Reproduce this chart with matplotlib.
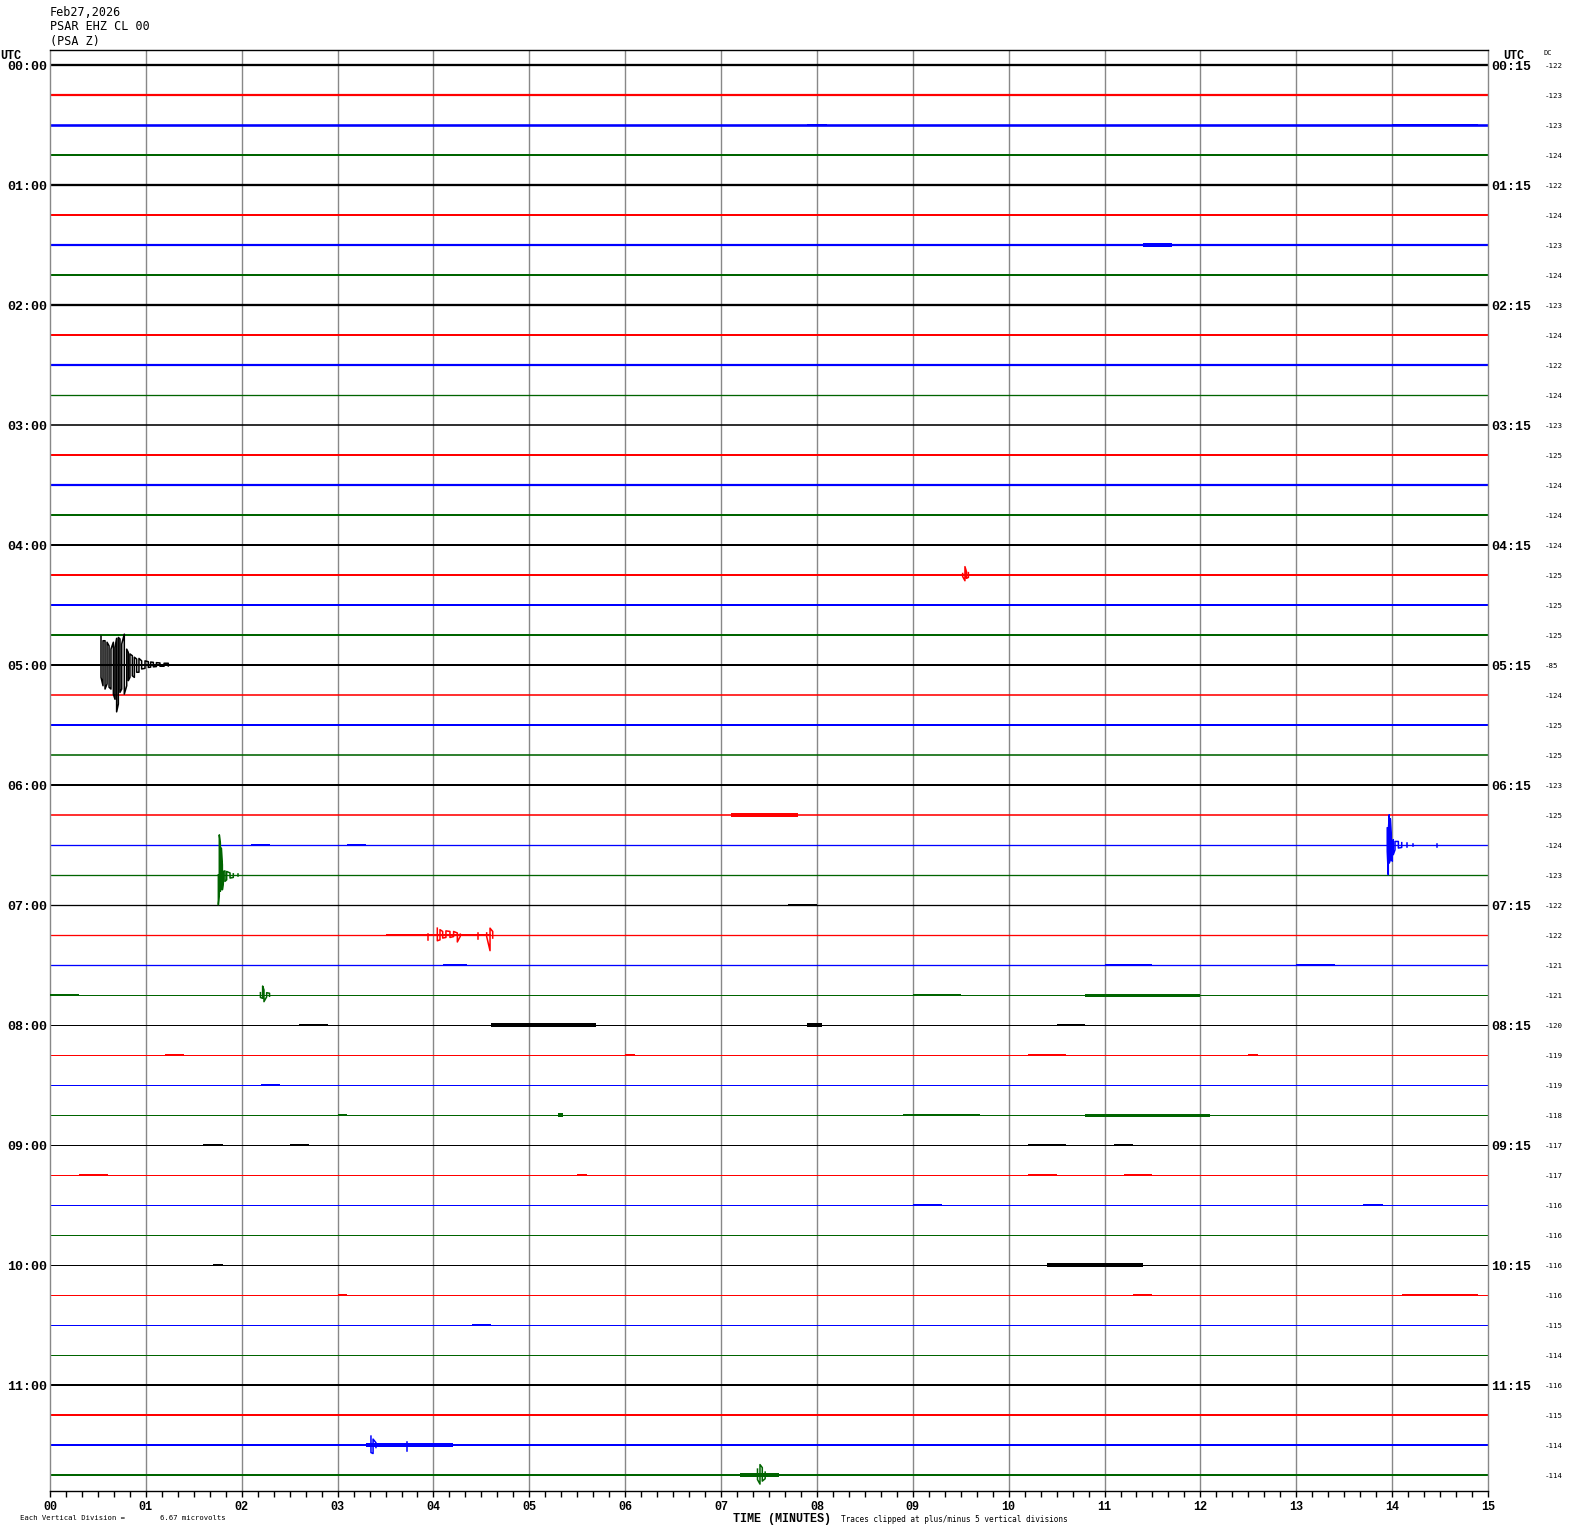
import matplotlib
matplotlib.use("Agg")
import matplotlib.pyplot as plt
from matplotlib.ticker import MultipleLocator

# --- 데이터 ---
trace_colors = ['black', 'red', 'blue', '#006400']
n_traces = 48

# 오른쪽 DC 값
dc_values = [-122, -123, -123, -124, -122, -124, -123, -124,
             -123, -124, -122, -124, -123, -125, -124, -124,
             -124, -125, -125, -125, -85, -124, -125, -125,
             -123, -125, -124, -123, -122, -122, -121, -121,
             -120, -119, -119, -118, -117, -117, -116, -116,
             -116, -116, -115, -114, -116, -115, -114, -114]

# 트레이스별 잡음 두께 (px)
noise_px = [2.3, 2.2, 2.6, 2.0, 2.3, 2.0, 2.2, 2.0,
            2.3, 2.0, 2.2, 1.3, 1.6, 2.0, 2.2, 2.0,
            2.0, 2.0, 2.0, 2.0, 2.0, 1.6, 2.0, 1.6,
            2.0, 1.6, 1.3, 1.3, 1.3, 1.3, 1.3, 1.0,
            1.0, 1.0, 1.0, 1.0, 1.0, 1.0, 1.0, 1.0,
            1.0, 1.0, 1.0, 1.0, 2.0, 2.0, 2.0, 2.0]

# 작은 잡음 구간: (트레이스, 시작분, 끝분, 반폭 px)
bursts = [(2, 7.9, 8.1, 1.3), (2, 14.0, 14.9, 1.3), (3, 9.0, 9.3, 1.3), (3, 13.2, 13.5, 1.3),
          (6, 11.4, 11.7, 1.8), (20, 1.0, 1.6, 1.2), (25, 7.1, 7.8, 1.6),
          (26, 2.1, 2.3, 1.2), (26, 3.1, 3.3, 1.2), (28, 7.7, 8.0, 1.2),
          (29, 3.5, 4.6, 1.2), (30, 4.1, 4.35, 1.2), (30, 13.0, 13.4, 1.2), (30, 11.0, 11.5, 1.0),
          (31, 0.0, 0.3, 1.2), (31, 9.0, 9.5, 1.2), (31, 10.8, 12.0, 1.5),
          (32, 4.6, 5.7, 1.6), (32, 7.9, 8.05, 1.8), (32, 10.5, 10.8, 1.2), (32, 2.6, 2.9, 1.0),
          (33, 1.2, 1.4, 1.0), (33, 6.0, 6.1, 1.0), (33, 10.2, 10.6, 1.2), (33, 12.5, 12.6, 1.2),
          (34, 2.2, 2.4, 1.2),
          (35, 3.0, 3.1, 1.0), (35, 8.9, 9.7, 1.0), (35, 10.8, 12.1, 1.5), (35, 5.3, 5.35, 1.8),
          (36, 1.6, 1.8, 1.2), (36, 2.5, 2.7, 1.0), (36, 11.1, 11.3, 1.2), (36, 10.2, 10.6, 1.0),
          (37, 0.3, 0.6, 1.0), (37, 10.2, 10.5, 1.2), (37, 11.2, 11.5, 1.2), (37, 5.5, 5.6, 1.0),
          (38, 9.0, 9.3, 1.0), (38, 13.7, 13.9, 1.0),
          (40, 10.4, 11.4, 1.6), (40, 1.7, 1.8, 1.0),
          (41, 3.0, 3.1, 1.0), (41, 11.3, 11.5, 1.0), (41, 14.1, 14.9, 1.0),
          (42, 4.4, 4.6, 1.0),
          (46, 3.3, 4.2, 1.6), (46, 4.2, 5.0, 1.2), (47, 1.3, 1.7, 1.2), (47, 7.2, 7.6, 1.6)]

# 지진 이벤트: (분, 위 진폭, 아래 진폭) 단위 = 트레이스 간격
ev_0415 = [(9.52, 0.05, 0.05), (9.544, 0.28, 0.19), (9.56, 0.11, 0.11), (9.58, 0.08, 0.08)]
ev_0500 = [(0.532, 0.96, 0.41), (0.553, 0.81, 0.69), (0.574, 0.81, 0.80), (0.595, 0.76, 0.63),
           (0.616, 0.64, 0.74), (0.636, 0.53, 0.80), (0.661, 0.76, 0.97), (0.678, 0.59, 1.14),
           (0.695, 0.89, 1.56), (0.713, 0.92, 1.30), (0.730, 0.87, 0.91), (0.748, 0.70, 0.80),
           (0.775, 1.03, 0.97), (0.800, 0.53, 0.69), (0.817, 0.42, 0.52), (0.834, 0.37, 0.41),
           (0.859, 0.31, 0.36), (0.880, 0.26, 0.41), (0.904, 0.20, 0.24), (0.928, 0.22, 0.24),
           (0.956, 0.14, 0.13), (0.991, 0.14, 0.11), (1.026, 0.11, 0.08), (1.050, 0.10, 0.07),
           (1.078, 0.09, 0.06), (1.110, 0.08, 0.05), (1.147, 0.07, 0.04), (1.190, 0.06, 0.04),
           (1.234, 0.06, 0.03)]
ev_0630 = [(13.949, 0.57, 0.21), (13.960, 0.46, 0.99), (13.970, 1.01, 0.60), (13.981, 0.88, 0.50),
           (13.991, 0.34, 0.43), (14.002, 0.12, 0.54), (14.012, 0.18, 0.32), (14.030, 0.12, 0.16),
           (14.065, 0.12, 0.10), (14.100, 0.08, 0.08), (14.152, 0.06, 0.06), (14.221, 0.03, 0.03),
           (14.465, 0.02, 0.08)]
ev_0645 = [(1.756, 0.01, 0.99), (1.766, 1.34, 0.66), (1.777, 1.07, 0.54), (1.787, 0.90, 0.32),
           (1.798, 0.34, 0.49), (1.808, 0.12, 0.27), (1.825, 0.14, 0.21), (1.843, 0.12, 0.16),
           (1.878, 0.07, 0.10), (1.912, 0.04, 0.08), (1.964, 0.03, 0.04)]
ev_0715 = [(3.947, 0.02, 0.16), (4.040, 0.23, 0.19), (4.068, 0.18, 0.16), (4.096, 0.12, 0.10),
           (4.130, 0.14, 0.08), (4.172, 0.12, 0.08), (4.210, 0.12, 0.05), (4.249, 0.07, 0.23),
           (4.280, 0.03, 0.04), (4.468, 0.07, 0.12), (4.555, 0.07, 0.05), (4.590, 0.23, 0.52),
           (4.618, 0.12, 0.10)]
ev_0745 = [(2.195, 0.08, 0.08), (2.218, 0.30, 0.11), (2.232, 0.17, 0.22), (2.26, 0.08, 0.06),
           (2.29, 0.06, 0.04)]
ev_1130 = [(3.348, 0.30, 0.25), (3.37, 0.20, 0.28), (3.40, 0.08, 0.08), (3.72, 0.10, 0.20)]
ev_1145 = [(7.38, 0.20, 0.15), (7.406, 0.35, 0.30), (7.43, 0.25, 0.20), (7.46, 0.10, 0.12)]
events = [(17, ev_0415), (20, ev_0500), (26, ev_0630), (27, ev_0645),
          (29, ev_0715), (31, ev_0745), (46, ev_1130), (47, ev_1145)]

px = 1 / 30.0  # 트레이스 간격 30px

fig = plt.figure(figsize=(15.7, 15.34), dpi=100)
ax = fig.add_axes([50 / 1570, 43 / 1534, 1438 / 1570, 1441 / 1534])
ax.set_xlim(0, 15)
ax.set_ylim(47.53, -0.5)

# 분 격자
for m in range(1, 15):
    ax.axvline(m, color='#888888', lw=1.0, zorder=1)

for i in range(n_traces):
    c = trace_colors[i % 4]
    ax.plot([0, 15], [i, i], color=c, lw=noise_px[i] * 0.72, solid_capstyle='butt', zorder=2)

for tr, t0, t1, hw in bursts:
    c = trace_colors[tr % 4]
    ax.fill_between([t0, t1], tr - hw * px, tr + hw * px, color=c, lw=0, zorder=3)


def draw_event(tr, ev):
    c = trace_colors[tr % 4]
    # 간격이 큰 곳은 끊어서 그림
    groups, cur = [], [ev[0]]
    for p in ev[1:]:
        if p[0] - cur[-1][0] > 0.05:
            groups.append(cur)
            cur = [p]
        else:
            cur.append(p)
    groups.append(cur)
    for g in groups:
        xs, ys = [], []
        for k, (t, up, dn) in enumerate(g):
            if k % 2 == 0:
                xs += [t, t]
                ys += [tr - up, tr + dn]
            else:
                xs += [t, t]
                ys += [tr + dn, tr - up]
        ax.plot(xs, ys, color=c, lw=1.1, zorder=4)


for tr, ev in events:
    draw_event(tr, ev)

# 축 꾸미기
ax.spines['top'].set_color('black')
ax.spines['bottom'].set_color('black')
ax.spines['left'].set_color('#888888')
ax.spines['right'].set_color('#888888')
for s in ax.spines.values():
    s.set_linewidth(1.0)
ax.set_yticks([])
ax.xaxis.set_minor_locator(MultipleLocator(1 / 6))
ax.set_xticks(range(16))
ax.set_xticklabels([f"{m:02d}" for m in range(16)], family='Liberation Mono',
                   fontweight='bold', fontsize=8.5)
ax.tick_params(axis='x', which='both', direction='out', length=4, width=1, pad=3)

mono = 'DejaVu Sans Mono'
bmono = 'Liberation Mono'

# 시간 라벨
for i in range(0, n_traces, 4):
    ax.text(-0.03, i + 0.05, f"{i // 4:02d}:00", ha='right', va='center', family=bmono,
            fontweight='bold', fontsize=9.5)
    ax.text(15.03, i + 0.05, f"{i // 4:02d}:15", ha='left', va='center', family=bmono,
            fontweight='bold', fontsize=9.5)
for i in range(n_traces):
    fig.text(1545 / 1570, 1 - (65 + 30 * i + 1) / 1534, str(dc_values[i]), ha='left',
             va='center', family=mono, fontsize=5.4)

fig.text(0 / 1570, 1 - 56 / 1534, "UTC", ha='left', va='center', family=bmono,
         fontweight='bold', fontsize=8.5)
fig.text(1503 / 1570, 1 - 56 / 1534, "UTC", ha='left', va='center', family=bmono,
         fontweight='bold', fontsize=8.5)
fig.text(1543 / 1570, 1 - 53 / 1534, "DC", ha='left', va='center', family=mono, fontsize=5)

fig.text(50 / 1570, 1 - 12 / 1534, "Feb27,2026", ha='left', va='center', family=mono, fontsize=8.5)
fig.text(50 / 1570, 1 - 27 / 1534, "PSAR EHZ CL 00", ha='left', va='center', family=mono, fontsize=8.5)
fig.text(50 / 1570, 1 - 41 / 1534, "(PSA Z)", ha='left', va='center', family=mono, fontsize=8.5)

fig.text(20 / 1570, 1 - 1518 / 1534, "Each Vertical Division =", ha='left', va='center',
         family=mono, fontsize=5.2)
fig.text(160 / 1570, 1 - 1518 / 1534, "6.67 microvolts", ha='left', va='center',
         family=mono, fontsize=5.2)
fig.text(733 / 1570, 1 - 1519 / 1534, "TIME (MINUTES)", ha='left', va='center',
         family=bmono, fontweight='bold', fontsize=8.5)
fig.text(841 / 1570, 1 - 1519 / 1534, "Traces clipped at plus/minus 5 vertical divisions",
         ha='left', va='center', family=mono, fontsize=5.6)

fig.savefig("out.png", dpi=100)
